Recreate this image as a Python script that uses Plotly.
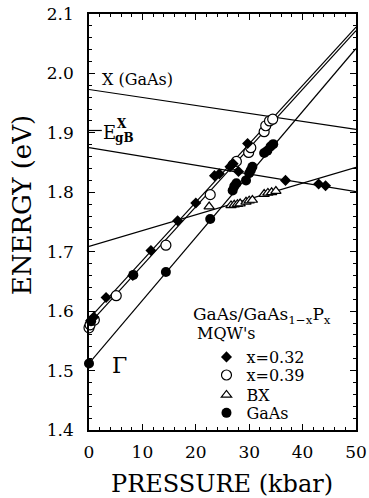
import plotly.graph_objects as go

# ---- data ----
x032_P = [0.3, 0.9, 3.2, 8.2, 11.6, 16.6, 20.0, 23.5, 24.4, 26.4, 27.0, 28.0, 29.7, 36.8, 43.0, 44.3]
x032_E = [1.584, 1.590, 1.623, 1.660, 1.702, 1.752, 1.782, 1.828, 1.831, 1.843, 1.848, 1.835, 1.882, 1.820, 1.814, 1.811]

x039_P = [0.0, 0.2, 1.0, 5.1, 14.4, 22.7, 27.0, 27.6, 29.9, 30.3, 32.8, 33.1, 33.8, 34.4]
x039_E = [1.572, 1.577, 1.585, 1.626, 1.711, 1.796, 1.846, 1.852, 1.867, 1.875, 1.902, 1.912, 1.920, 1.923]

BX_P = [22.5, 26.6, 27.2, 27.8, 28.3, 29.4, 30.0, 30.6, 32.8, 33.5, 34.2, 35.0]
BX_E = [1.776, 1.778, 1.779, 1.780, 1.781, 1.784, 1.786, 1.787, 1.797, 1.799, 1.800, 1.802]

GaAs_P = [0.0, 0.4, 8.3, 14.4, 22.7, 26.9, 27.2, 27.6, 29.4, 30.0, 30.3, 30.6, 32.8, 33.4, 34.0, 34.5]
GaAs_E = [1.512, 1.583, 1.661, 1.666, 1.755, 1.803, 1.810, 1.815, 1.820, 1.832, 1.837, 1.843, 1.866, 1.870, 1.877, 1.881]

# fitted lines (end points at P = 0 and 50 kbar)
fit_P = [0, 50]
fit_x032 = [1.587, 2.078]
fit_x039 = [1.578, 2.072]
fit_gamma = [1.512, 2.042]
fit_X_GaAs = [1.973, 1.906]
fit_X_lower = [1.875, 1.801]
fit_BX = [1.709, 1.842]

E_gB_X = 1.904  # marked level on energy axis

x_ticks = [0, 10, 20, 30, 40, 50]
y_ticks = [1.4, 1.5, 1.6, 1.7, 1.8, 1.9, 2.0, 2.1]

FONT = "DejaVu Serif"

fig = go.Figure()

for ys in [fit_X_GaAs, fit_X_lower, fit_BX, fit_x032, fit_x039, fit_gamma]:
    fig.add_trace(go.Scatter(x=fit_P, y=ys, mode="lines", showlegend=False,
                             line=dict(color="black", width=1.2), hoverinfo="skip"))

fig.add_trace(go.Scatter(x=BX_P, y=BX_E, mode="markers", name="BX", legend="legend3",
                         marker=dict(symbol="triangle-up", size=9, color="white",
                                     line=dict(color="black", width=1.2)), cliponaxis=False))
fig.add_trace(go.Scatter(x=x039_P, y=x039_E, mode="markers", name="x=0.39", legend="legend2",
                         marker=dict(symbol="circle", size=10, color="white",
                                     line=dict(color="black", width=1.2)), cliponaxis=False))
fig.add_trace(go.Scatter(x=GaAs_P, y=GaAs_E, mode="markers", name="GaAs", legend="legend4",
                         marker=dict(symbol="circle", size=10, color="black",
                                     line=dict(color="black", width=0)), cliponaxis=False))
fig.add_trace(go.Scatter(x=x032_P, y=x032_E, mode="markers", name="x=0.32", legend="legend",
                         marker=dict(symbol="diamond", size=8.5, color="black",
                                     line=dict(color="black", width=0)), cliponaxis=False))

# E_gB^X marker dash on the axis
fig.add_shape(type="line", x0=0, x1=2.4, y0=E_gB_X, y1=E_gB_X, xref="x", yref="y",
              line=dict(color="black", width=1.2))

def txt(x, y, s, size, xanchor="left", bold=False):
    fig.add_annotation(x=x, y=y, xref="x", yref="y", text=(f"<b>{s}</b>" if bold else s),
                       xanchor=xanchor, yanchor="middle", showarrow=False,
                       font=dict(family=FONT, size=size, color="black"))

txt(2.0, 1.990, "X (GaAs)", 16)
txt(2.3, 1.901, "E", 18)
txt(4.8, 1.915, "X", 12, bold=True)
txt(4.4, 1.891, "gB", 12, bold=True)
txt(5.8, 1.508, "Γ", 22, xanchor="center")
txt(19.1, 1.593, "GaAs/GaAs<sub>1−x</sub>P<sub>x</sub>", 17)
txt(19.9, 1.563, "MQW's", 16)

# axis titles
fig.add_annotation(x=0.497, y=-0.131, xref="paper", yref="paper", text="PRESSURE (kbar)",
                   xanchor="center", yanchor="middle", showarrow=False,
                   font=dict(family=FONT, size=24, color="black"))
fig.add_annotation(x=-0.251, y=0.54, xref="paper", yref="paper", text="ENERGY (eV)",
                   xanchor="center", yanchor="middle", textangle=-90, showarrow=False,
                   font=dict(family=FONT, size=26, color="black"))

axis_common = dict(showline=True, linecolor="black", linewidth=1.6, mirror="allticks",
                   ticks="inside", ticklen=6, tickwidth=1.2, tickcolor="black",
                   showgrid=False, zeroline=False, automargin=False,
                   ticklabeloverflow="allow",
                   tickfont=dict(family=FONT, size=17, color="black"))

fig.update_xaxes(range=[0, 50], tickvals=x_ticks, ticktext=[str(v) for v in x_ticks],
                 minor=dict(ticks="inside", dtick=2, ticklen=3.5, tickwidth=1, tickcolor="black"),
                 ticklabelstandoff=6, **axis_common)
fig.update_yaxes(range=[1.4, 2.1], tickvals=y_ticks, ticktext=[f"{v:.1f}" for v in y_ticks],
                 minor=dict(ticks="inside", dtick=0.02, ticklen=3.5, tickwidth=1, tickcolor="black"),
                 ticklabelstandoff=10, **axis_common)

leg_common = dict(xanchor="left", yanchor="middle", bgcolor="rgba(0,0,0,0)", borderwidth=0,
                  font=dict(family=FONT, size=16, color="black"), itemwidth=30)
leg_x = 0.44
fig.update_layout(
    width=369, height=498,
    margin=dict(l=89, r=13, t=14, b=68, autoexpand=False),
    paper_bgcolor="white", plot_bgcolor="white",
    showlegend=True,
    legend=dict(x=leg_x, y=0.1755, **leg_common),
    legend2=dict(x=leg_x, y=0.132, **leg_common),
    legend3=dict(x=leg_x, y=0.084, **leg_common),
    legend4=dict(x=leg_x, y=0.041, **leg_common),
)

# remove the browser's default 8px body margin so the figure fills the window
fig.write_html("out.html", config={"displayModeBar": False},
               post_script="document.body.style.margin='0px';")
